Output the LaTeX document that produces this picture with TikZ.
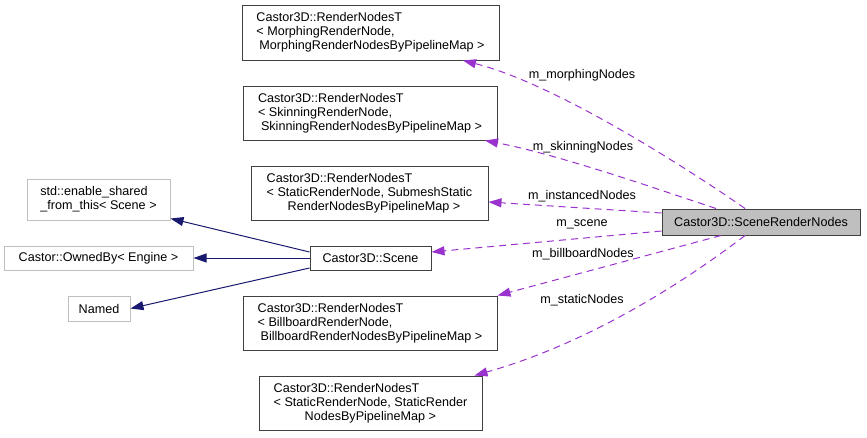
\documentclass[tikz,border=0pt]{standalone}
\usepackage{fontspec}
\setmainfont{Liberation Sans}
\usetikzlibrary{arrows.meta, positioning}
\definecolor{edgeblue}{HTML}{191970}
\definecolor{edgepurple}{HTML}{9A32CD}
\definecolor{boxgray}{HTML}{BFBFBF}
\definecolor{framegray}{HTML}{404040}

\tikzset{
  every node/.style={font=\fontsize{12.6}{14}\selectfont, text=black},
  classbox/.style={draw=framegray, line width=1pt, inner sep=0pt, align=left},
  extbox/.style={draw=boxgray, line width=1pt, inner sep=0pt, align=left},
  mainbox/.style={classbox, fill=boxgray},
  inherit/.style={edgeblue, line width=1pt, -{Triangle[length=13pt, width=9pt]}},
  usage/.style={edgepurple, line width=1pt, dash pattern=on 7pt off 5pt,
    -{Triangle[length=13pt, width=9pt]}},
  member/.style={inner sep=1pt},
}

\begin{document}
\begin{tikzpicture}[x=1pt, y=-1pt]
  \useasboundingbox (0,0) rectangle (867,437);

  % Classes
  \node[classbox, minimum width=257pt, minimum height=55pt] (morph) at (370.5,32.5)
    {Castor3D::RenderNodesT\\< MorphingRenderNode,\\\hspace*{3pt}MorphingRenderNodesByPipelineMap >};
  \node[classbox, minimum width=254pt, minimum height=54pt] (skin) at (370,113)
    {Castor3D::RenderNodesT\\< SkinningRenderNode,\\\hspace*{3pt}SkinningRenderNodesByPipelineMap >};
  \node[classbox, minimum width=237pt, minimum height=54pt] (inst) at (369.5,193)
    {Castor3D::RenderNodesT\\< StaticRenderNode, SubmeshStatic\\\hspace*{21pt}RenderNodesByPipelineMap >};
  \node[classbox, minimum width=121pt, minimum height=24pt] (scene) at (370.5,258)
    {Castor3D::Scene};
  \node[mainbox, minimum width=198pt, minimum height=26pt] (srn) at (761,222)
    {Castor3D::SceneRenderNodes};
  \node[classbox, minimum width=254pt, minimum height=54pt] (bill) at (370,323)
    {Castor3D::RenderNodesT\\< BillboardRenderNode,\\\hspace*{3pt}BillboardRenderNodesByPipelineMap >};
  \node[classbox, minimum width=223pt, minimum height=54pt] (static) at (370.5,403)
    {Castor3D::RenderNodesT\\< StaticRenderNode, StaticRender\\\hspace*{31pt}NodesByPipelineMap >};

  % Base classes
  \node[extbox, minimum width=143pt, minimum height=41pt] (shared) at (98.5,199.5)
    {std::enable\_shared\\\_from\_this< Scene >};
  \node[extbox, minimum width=189pt, minimum height=24pt] (owned) at (98.5,258)
    {Castor::OwnedBy< Engine >};
  \node[extbox, minimum width=62pt, minimum height=25pt] (named) at (99,308.5)
    {Named};

  % Inheritance
  \draw[inherit] ([yshift=6pt]scene.west) -- ([yshift=2pt]shared.south east);
  \draw[inherit] (scene.west) -- (owned.east);
  \draw[inherit] ([yshift=-10pt]scene.west) -- (named.east);

  % Members
  \draw[usage] ([xshift=-16pt]srn.north) .. controls (700,177) and (560,85) .. ([xshift=92.5pt]morph.south);
  \draw[usage] ([xshift=-45pt]srn.north) .. controls (660,190) and (560,155) .. ([xshift=115pt]skin.south);
  \draw[usage] ([yshift=9pt]srn.west) -- ([yshift=-9pt]inst.east);
  \draw[usage] ([yshift=-9pt]srn.west) -- ([yshift=6pt]scene.east);
  \draw[usage] ([xshift=-40pt]srn.south) -- (bill.north east);
  \draw[usage] ([xshift=-16pt]srn.south) .. controls (700,270) and (600,340) .. ([xshift=104pt]static.north);

  \node[member] (lmorph) at (582,75) {m\_morphingNodes};
  \node[member] (lskin) at (583,147) {m\_skinningNodes};
  \node[member] (linst) at (582,196) {m\_instancedNodes};
  \node[member] (lscene) at (582,224) {m\_scene};
  \node[member] (lbill) at (583,254) {m\_billboardNodes};
  \node[member] (lstatic) at (582,300) {m\_staticNodes};
\end{tikzpicture}
\end{document}
